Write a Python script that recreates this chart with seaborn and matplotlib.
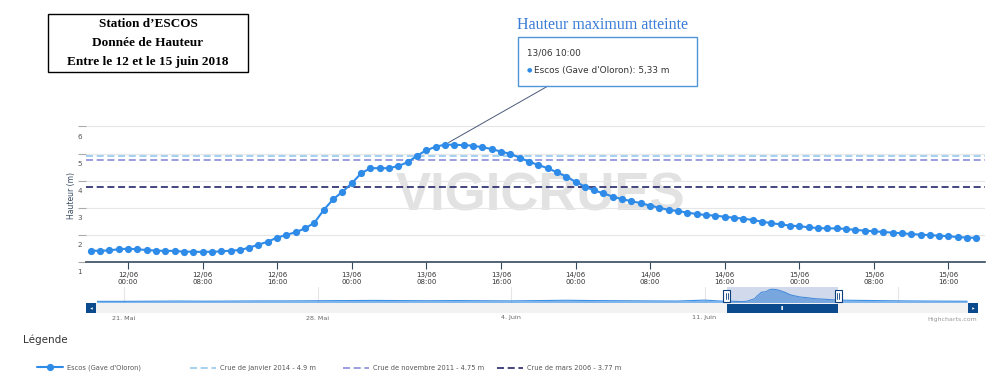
import matplotlib
matplotlib.use("Agg")
import numpy as np
import pandas as pd
import seaborn as sns
import matplotlib.pyplot as plt
import matplotlib.dates as mdates
from matplotlib.patches import Rectangle
from matplotlib.transforms import ScaledTranslation, blended_transform_factory

# --- data: Escos station, hourly levels (m) from 11/06 20:00 ---
debut = "2018-06-11 20:00"
hauteur = [1.42, 1.41, 1.43, 1.47, 1.49, 1.47, 1.44, 1.42, 1.41, 1.41, 1.38, 1.38, 1.37, 1.38, 1.39, 1.42, 1.44, 1.53, 1.64,
           1.75, 1.90, 2.00, 2.10, 2.24, 2.45, 2.92, 3.31, 3.59, 3.90, 4.27, 4.46, 4.46, 4.46, 4.54, 4.68, 4.92, 5.12,
           5.25, 5.33, 5.32, 5.31, 5.29, 5.23, 5.17, 5.07, 4.99, 4.85, 4.70, 4.58, 4.46, 4.31, 4.15, 3.96, 3.78, 3.64,
           3.53, 3.41, 3.32, 3.24, 3.17, 3.08, 3.00, 2.92, 2.88, 2.82, 2.77, 2.73, 2.71, 2.67, 2.63, 2.60, 2.55, 2.49,
           2.43, 2.39, 2.34,
           2.32, 2.28, 2.25, 2.24, 2.24, 2.22, 2.18, 2.16, 2.13, 2.11, 2.08, 2.06, 2.03, 2.01, 1.99, 1.97, 1.95, 1.92,
           1.90, 1.89]
serie_nom = "Escos (Gave d'Oloron)"

crue_labels = ["Crue de janvier 2014 - 4.9 m", "Crue de novembre 2011 - 4.75 m", "Crue de mars 2006 - 3.77 m"]
crue_values = [4.9, 4.75, 3.77]
crue_colors = ["#8cc4ee", "#8083d4", "#13145e"]

# navigator (full period)
nav_avant_dates = pd.date_range("2018-05-20", "2018-06-11", freq="D")
nav_avant = [1.45, 1.45, 1.50, 1.55, 1.50, 1.55, 1.60, 1.60, 1.65, 1.70, 1.75, 1.70,
             1.65, 1.70, 1.65, 1.60, 1.70, 1.80, 1.70, 1.65, 1.60, 1.55, 1.85]
nav_apres_dates = pd.to_datetime(["2018-06-16 00:00", "2018-06-17 00:00", "2018-06-18 00:00",
                                  "2018-06-19 00:00", "2018-06-20 00:00", "2018-06-20 12:00"])
nav_apres = [1.82, 1.72, 1.62, 1.55, 1.50, 1.48]
mois = {5: "Mai", 6: "Juin"}
dernier_label = pd.Timestamp("2018-06-11")

BLUE = "#2f8be8"
NAV_BLUE = "#3d8fe4"
NAVY = "#0b4a8c"

df = pd.DataFrame({"temps": pd.date_range(debut, periods=len(hauteur), freq="h"), "hauteur": hauteur})
nav_df = pd.concat([
    pd.DataFrame({"temps": nav_avant_dates, "hauteur": nav_avant}),
    df,
    pd.DataFrame({"temps": nav_apres_dates, "hauteur": nav_apres}),
], ignore_index=True)

sns.set_theme(style="white")
plt.rcParams["font.family"] = ["DejaVu Sans"]

W, H = 998, 381
fig = plt.figure(figsize=(W / 100, H / 100), dpi=100)


def fx(px):
    return px / W


def fy(py):
    return 1 - py / H


x_min = pd.Timestamp("2018-06-11 19:30")
x_max = pd.Timestamp("2018-06-15 19:55")

# --- main chart ---
ax = fig.add_axes([fx(86), fy(262), 899 / W, 141 / H])
sns.lineplot(data=df, x="temps", y="hauteur", ax=ax, color=BLUE, lw=1.5, marker="o",
             markersize=5.2, markeredgewidth=0, zorder=5, label=serie_nom)
for lab, val, col in zip(crue_labels, crue_values, crue_colors):
    ax.axhline(val, color=col, lw=1.1, ls=(0, (4.6, 2.4)), zorder=3, label=lab)
if ax.get_legend():
    ax.get_legend().remove()

ax.set_xlim(x_min, x_max)
ax.set_ylim(1, 6.2)
ax.set_yticks(range(1, 7))
ax.grid(axis="y", color="#e6e6e6", lw=0.8)
ax.grid(axis="x", visible=False)
for s in ["left", "right", "top"]:
    ax.spines[s].set_visible(False)
ax.spines["bottom"].set_color("#34495e")
ax.spines["bottom"].set_linewidth(1.2)
ax.set_xlabel("")
ax.set_ylabel("Hauteur (m)", fontsize=5.5, color="#34495e")
ax.yaxis.set_label_coords(-10 / 899, 0.475)

ax.xaxis.set_major_locator(mdates.HourLocator(byhour=[0, 8, 16]))
ax.xaxis.set_major_formatter(mdates.DateFormatter("%d/%m\n%H:%M"))
ax.tick_params(axis="x", direction="out", length=5, width=0.8, color="#34495e",
               labelsize=5, labelcolor="#333333", pad=2, bottom=True)
ax.tick_params(axis="y", direction="out", length=6, width=0.8, color="#aaaaaa",
               labelsize=5.2, labelcolor="#555555", pad=-3, left=True)
for t in ax.get_yticklabels():
    t.set_transform(t.get_transform() + ScaledTranslation(0, -7 / 72, fig.dpi_scale_trans))

ax.text(0.505, 0.468, "VIGICRUES", transform=ax.transAxes, ha="center", va="center",
        fontsize=38, fontweight="bold", color="#e2e2e2", family="Liberation Sans", zorder=0)

# --- navigator ---
nav_L = pd.Timestamp("2018-05-20 00:30")
nav_R = pd.Timestamp("2018-06-20 12:45")
nav_w = 871
ax_nav = fig.add_axes([fx(97), fy(303), nav_w / W, 16 / H])
sns.lineplot(data=nav_df, x="temps", y="hauteur", ax=ax_nav, color=NAV_BLUE, lw=0.8)
ax_nav.fill_between(nav_df["temps"], nav_df["hauteur"], 0.92, color=NAV_BLUE, alpha=0.65, lw=0)
ax_nav.set_xlim(nav_L, nav_R)
ax_nav.set_ylim(0.92, 6.07)
ax_nav.set_yticks([])
ax_nav.set_xlabel("")
ax_nav.set_ylabel("")
for s in ax_nav.spines.values():
    s.set_visible(False)


def nav_fmt(v, p):
    d = mdates.num2date(v).replace(tzinfo=None)
    if d > dernier_label:
        return ""
    return f"{d.day}. {mois[d.month]}"


ax_nav.xaxis.set_major_locator(mdates.WeekdayLocator(byweekday=mdates.MO))
ax_nav.xaxis.set_major_formatter(plt.FuncFormatter(nav_fmt))
ax_nav.grid(axis="x", color="#e6e6e6", lw=0.8)
ax_nav.tick_params(axis="x", length=0, labelsize=4.6, labelcolor="#666666", pad=9)

ppd = nav_w / (mdates.date2num(nav_R) - mdates.date2num(nav_L))  # px per day
bt = blended_transform_factory(ax_nav.transData, ax_nav.transAxes)
s0, s1 = mdates.date2num(x_min), mdates.date2num(x_max)
ax_nav.axvspan(x_min, x_max, color=(102 / 255, 133 / 255, 194 / 255, 0.3), lw=0, zorder=4)

# scrollbar
ax_nav.add_patch(Rectangle((-11 / nav_w, -10 / 16), 1 + 21 / nav_w, 10 / 16, transform=ax_nav.transAxes,
                           fc="#f2f2f2", ec="none", clip_on=False, zorder=3))
ax_nav.add_patch(Rectangle((s0, -10 / 16), s1 - s0, 9 / 16, transform=bt, fc=NAVY, ec="none",
                           clip_on=False, zorder=4))
ax_nav.text((s0 + s1) / 2, -5.5 / 16, "ll", transform=bt, ha="center", va="center", fontsize=3.5,
            color="white", fontweight="bold", zorder=5)
for bx, mk in [(-11 / nav_w, "<"), (1, ">")]:
    ax_nav.add_patch(Rectangle((bx, -10 / 16), 10 / nav_w, 10 / 16, transform=ax_nav.transAxes,
                               fc=NAVY, ec="none", clip_on=False, zorder=5))
    ax_nav.plot(bx + 5 / nav_w, -5 / 16, marker=mk, ms=1.8, color="white", transform=ax_nav.transAxes,
                clip_on=False, zorder=6, mew=0)
for s in (s0, s1):
    ax_nav.add_patch(Rectangle((s - 3.5 / ppd, 0.06), 7 / ppd, 0.75, transform=bt, fc="white",
                               ec="#0a3d7a", lw=0.8, clip_on=False, zorder=6))
    for dx in (-1, 1):
        ax_nav.plot([s + dx / ppd] * 2, [0.25, 0.62], transform=bt, color="#0a3d7a", lw=0.6,
                    clip_on=False, zorder=7)

# --- overlay: title box, tooltip, legend ---
ov = fig.add_axes([0, 0, 1, 1])
ov.set_xlim(0, W)
ov.set_ylim(H, 0)
ov.axis("off")
ov.patch.set_alpha(0)

ov.add_patch(Rectangle((48, 14), 200, 58, fc="white", ec="black", lw=1))
for yy, txt in [(24, "Station d’ESCOS"), (43, "Donnée de Hauteur"), (62, "Entre le 12 et le 15 juin 2018")]:
    ov.text(148, yy, txt, ha="center", va="center", fontsize=9.5, fontweight="bold",
            family="Liberation Serif", color="black")

ov.text(603, 25, "Hauteur maximum atteinte", ha="center", va="center", fontsize=11.5,
        family="Liberation Serif", color="#3a7bd5")

i_max = int(np.argmax(hauteur))
t_max = df["temps"][i_max]
ov.add_patch(Rectangle((518, 37), 179, 49, fc=(1, 1, 1, 0.85), ec="#4f95d9", lw=1))
ov.text(527, 53, t_max.strftime("%d/%m %H:%M"), ha="left", va="center", fontsize=6.4, color="#333333")
ov.text(527, 70, "●", ha="left", va="center", fontsize=4.5, color=BLUE)
ov.text(534, 70, f"{serie_nom}: {hauteur[i_max]:.2f} m".replace(".", ","), ha="left", va="center",
        fontsize=6.4, color="#333333")
ax.annotate("", xy=(t_max, hauteur[i_max]), xycoords="data", xytext=(548, 86), textcoords=ov.transData,
            arrowprops=dict(arrowstyle="-", color="#4a5a7a", lw=0.7, shrinkA=0, shrinkB=3),
            annotation_clip=False)

ov.text(977, 319, "Highcharts.com", ha="right", va="center", fontsize=4.5, color="#999999")
ov.text(23, 340, "Légende", ha="left", va="center", fontsize=7.5, color="#333333")

handles, labels = ax.get_legend_handles_labels()
for x0, h, lab in zip([37, 190, 343, 497], handles, labels):
    fig.legend([h], [lab], loc="center left", bbox_to_anchor=(fx(x0), fy(368)), frameon=False,
               fontsize=4.8, handlelength=3.9, handletextpad=0.6, borderpad=0, borderaxespad=0,
               labelcolor="#555555")

fig.savefig("out.png", dpi=100)
